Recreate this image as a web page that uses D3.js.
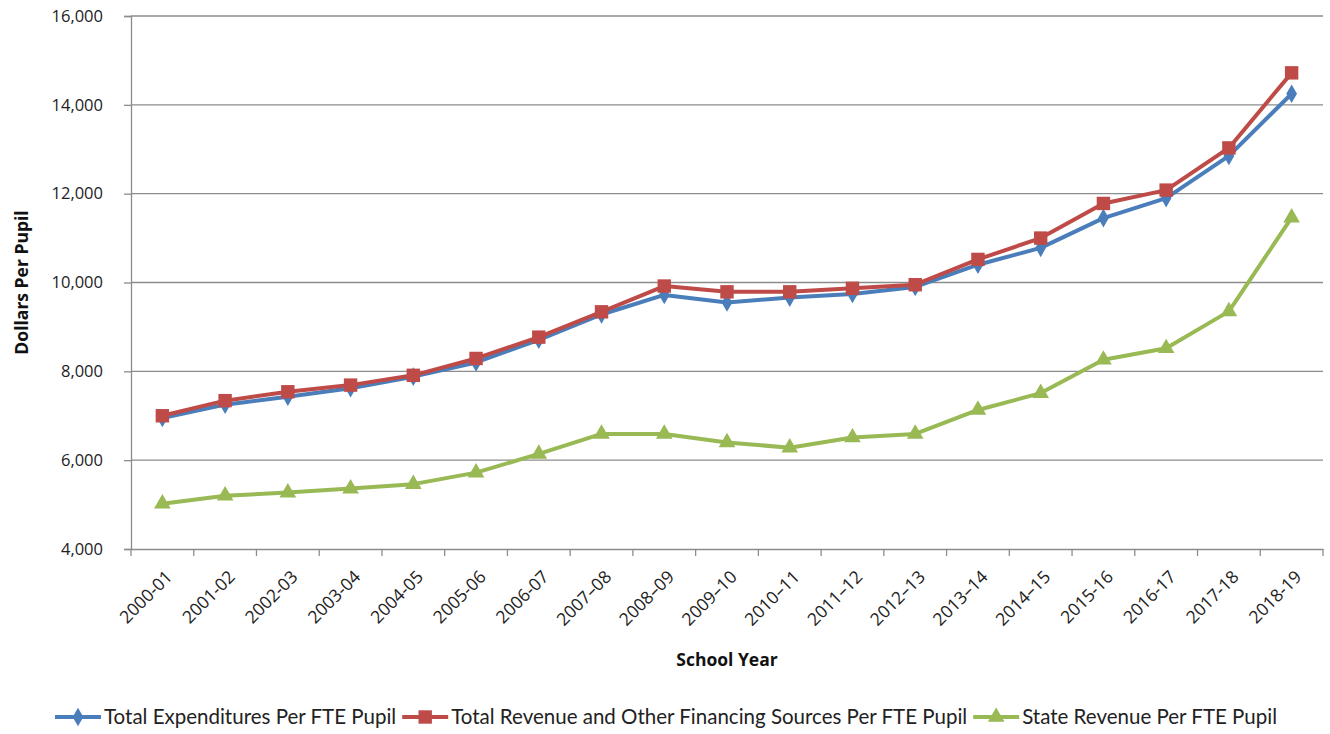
<!DOCTYPE html>
<html><head><meta charset="utf-8">
<script src="https://cdn.jsdelivr.net/npm/d3@7/dist/d3.min.js"></script>
<style>body{margin:0;background:#fff;}svg{display:block;}</style>
</head><body><svg id="c" width="1330" height="734"></svg>
<script>
const categories = ["2000-01","2001-02","2002-03","2003-04","2004-05","2005-06","2006-07","2007\u201308","2008\u201309","2009\u201310","2010\u201311","2011\u201312","2012\u201313","2013\u201314","2014\u201315","2015-16","2016-17","2017-18","2018-19"];
const expenditures = [6950,7250,7430,7620,7880,8200,8710,9280,9720,9550,9660,9740,9900,10400,10780,11450,11900,12850,14250];
const revenue = [7000,7340,7540,7690,7910,8290,8770,9340,9920,9790,9790,9870,9950,10520,11000,11780,12080,13030,14720];
const stateRevenue = [5020,5200,5270,5360,5460,5720,6140,6590,6590,6400,6280,6510,6590,7130,7510,8260,8520,9350,11460];
const yTicks = [4000,6000,8000,10000,12000,14000,16000];
const seriesNames = ["Total Expenditures Per FTE Pupil","Total Revenue and Other Financing Sources Per FTE Pupil","State Revenue Per FTE Pupil"];

const series = [
  {name: seriesNames[0], values: expenditures, color: "#4a7ebb", symbol: d3.symbolDiamond, size: 100},
  {name: seriesNames[1], values: revenue, color: "#be4b48", symbol: d3.symbolSquare, size: 180},
  {name: seriesNames[2], values: stateRevenue, color: "#98b954", symbol: d3.symbolTriangle, size: 120}
];

const svg = d3.select("#c");
const font = "'Open Sans', 'DejaVu Sans', sans-serif";
const pLeft = 131, pRight = 1323, pTop = 16, pBottom = 549;

const x = d3.scaleBand().domain(categories).range([pLeft, pRight]);
const y = d3.scaleLinear().domain([4000,16000]).range([pBottom, pTop]);

// gridlines
svg.append("g").selectAll("line").data(yTicks.filter(t => t > 4000)).join("line")
  .attr("x1", pLeft).attr("x2", pRight)
  .attr("y1", d => y(d)).attr("y2", d => y(d))
  .attr("stroke", "#8c8c8c").attr("stroke-width", 1.3);

// y axis
const ya = svg.append("g").attr("transform", `translate(${pLeft},0)`)
  .call(d3.axisLeft(y).tickValues(yTicks).tickFormat(d3.format(",")).tickSize(7).tickPadding(21));
ya.select(".domain").attr("stroke", "#8c8c8c").attr("stroke-width", 1.3);
ya.selectAll(".tick line").attr("stroke", "#8c8c8c").attr("stroke-width", 1.3);
ya.selectAll("text").attr("font-family", font).attr("font-size", 16.5).attr("fill", "#222");

// x axis
const xa = svg.append("g").attr("transform", `translate(0,${pBottom})`)
  .call(d3.axisBottom(x).tickSize(0).tickPadding(0).tickFormat(d => d));
xa.select(".domain").attr("stroke", "#8c8c8c").attr("stroke-width", 1.3);
xa.selectAll("text").attr("font-family", font).attr("font-size", 17.5).attr("fill", "#222")
  .attr("text-anchor", "end").attr("dy", 0).attr("y", 0)
  .attr("transform", "translate(11,29) rotate(-45)");
// tick marks between categories
const bounds = categories.map(c => x(c)).concat([pRight]);
svg.append("g").selectAll("line").data(bounds).join("line")
  .attr("x1", d => d).attr("x2", d => d).attr("y1", pBottom).attr("y2", pBottom + 7)
  .attr("stroke", "#8c8c8c").attr("stroke-width", 1.3);

// axis titles
svg.append("text").attr("x", 727).attr("y", 666).attr("text-anchor", "middle")
  .attr("font-family", font).attr("font-weight", "bold").attr("font-size", 17.5).attr("fill", "#111")
  .text("School Year");
svg.append("text").attr("transform", `translate(28,${(pTop+pBottom)/2}) rotate(-90)`).attr("text-anchor", "middle")
  .attr("font-family", font).attr("font-weight", "bold").attr("font-size", 17.5).attr("fill", "#111")
  .text("Dollars Per Pupil");

// lines
const cx = c => x(c) + x.bandwidth()/2;
series.forEach(s => {
  const line = d3.line().x((d,i) => cx(categories[i])).y(d => y(d));
  svg.append("path").datum(s.values).attr("d", line).attr("fill", "none")
    .attr("stroke", s.color).attr("stroke-width", 4).attr("stroke-linejoin", "round");
});
series.forEach(s => {
  svg.append("g").selectAll("path").data(s.values).join("path")
    .attr("d", d3.symbol().type(s.symbol).size(s.size))
    .attr("transform", (d,i) => `translate(${cx(categories[i])},${y(d)})`)
    .attr("fill", s.color);
});

// legend
const lg = svg.append("g").attr("transform", "translate(0,717)");
let lx = 55;
series.forEach(s => {
  const g = lg.append("g").attr("transform", `translate(${lx},0)`);
  g.append("line").attr("x1", 0).attr("x2", 46).attr("y1", 0).attr("y2", 0).attr("stroke", s.color).attr("stroke-width", 4);
  g.append("path").attr("d", d3.symbol().type(s.symbol).size(s.size)).attr("transform", "translate(23,0)").attr("fill", s.color);
  const t = g.append("text").attr("x", 49).attr("y", 7).attr("font-family", "Lato, 'Liberation Sans Narrow', sans-serif")
    .attr("font-size", 20.5).attr("fill", "#222").text(s.name);
  lx += 49 + t.node().getComputedTextLength() + 6;
});
</script></body></html>
